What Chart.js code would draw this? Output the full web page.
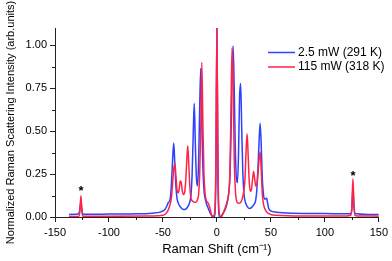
<!DOCTYPE html>
<html>
<head>
<meta charset="utf-8">
<script src="https://cdn.jsdelivr.net/npm/chart.js@4/dist/chart.umd.min.js"></script>
<style>
    html, body { margin: 0; padding: 0; background: #fff; }
    #chart { display: block; }
</style>
</head>
<body>
<canvas id="chart" width="392" height="261"></canvas>
<script>
// 2.5 mW (291 K)
const blueShift = [-137, -130, -128, -127, -126, -125, -124, -120, -100, -80, -60, -52, -48, -46, -45, -44, -43, -42, -41, -40, -39, -38, -37, -35, -33, -31, -29, -27, -25, -24, -23, -22, -21, -20, -19, -18, -17, -16, -15, -14, -13, -12, -10, -8, -6, -4, -2.5, -1, 0, 1, 2.5, 4, 6, 8, 10, 12, 13, 14, 15, 16, 17, 18, 19, 20, 21, 22, 23, 24, 25, 26, 28, 30, 32, 34, 36, 37, 38, 39, 40, 41, 42, 43, 44, 45, 46, 47, 48, 50, 55, 70, 100, 124, 125, 126, 127, 128, 140, 150];
const blueIntensity = [0.015, 0.016, 0.02, 0.045, 0.09, 0.035, 0.018, 0.016, 0.017, 0.018, 0.022, 0.03, 0.045, 0.07, 0.085, 0.09, 0.12, 0.21, 0.34, 0.43, 0.31, 0.18, 0.11, 0.07, 0.052, 0.043, 0.045, 0.06, 0.09, 0.13, 0.24, 0.47, 0.66, 0.43, 0.23, 0.18, 0.31, 0.62, 0.865, 0.56, 0.29, 0.16, 0.085, 0.05, 0.02, 0.005, 0, 0.2, 1.1, 0.2, 0, 0.005, 0.025, 0.05, 0.1, 0.23, 0.46, 0.8, 0.995, 0.76, 0.41, 0.23, 0.2, 0.36, 0.7, 0.777, 0.51, 0.26, 0.14, 0.095, 0.062, 0.05, 0.055, 0.07, 0.1, 0.16, 0.28, 0.43, 0.545, 0.43, 0.23, 0.14, 0.105, 0.105, 0.11, 0.08, 0.05, 0.035, 0.028, 0.022, 0.02, 0.019, 0.05, 0.17, 0.06, 0.02, 0.015, 0.014];

// 115 mW (318 K)
const redShift = [-137, -128, -127, -126, -125, -124, -100, -60, -50, -46, -44, -42, -41, -40, -39, -38, -37, -36, -35, -34, -33, -32, -31, -30, -29, -28, -27, -26, -25, -24, -22, -20, -18, -17, -16, -15, -14, -13, -12, -11, -10, -8, -6, -5, -4, -2, -1, 0, 1, 2, 4, 5, 7, 9, 11, 12, 13, 14, 15, 16, 17, 18, 20, 22, 24, 26, 27, 28, 29, 30, 31, 32, 33, 34, 35, 36, 37, 38, 39, 40, 41, 42, 43, 45, 48, 55, 80, 120, 124, 125, 126, 127, 128, 130, 150];
const redIntensity = [0.003, 0.004, 0.03, 0.124, 0.03, 0.005, 0.004, 0.006, 0.01, 0.03, 0.06, 0.12, 0.2, 0.28, 0.315, 0.24, 0.16, 0.14, 0.16, 0.21, 0.2, 0.15, 0.13, 0.14, 0.2, 0.32, 0.415, 0.3, 0.17, 0.11, 0.09, 0.085, 0.1, 0.13, 0.24, 0.5, 0.9, 0.55, 0.25, 0.14, 0.1, 0.08, 0.04, 0.01, 0, 0.03, 0.3, 1.1, 0.3, 0.03, 0, 0.01, 0.04, 0.08, 0.14, 0.25, 0.6, 0.985, 0.8, 0.35, 0.17, 0.1, 0.08, 0.085, 0.12, 0.22, 0.38, 0.485, 0.35, 0.2, 0.15, 0.16, 0.22, 0.265, 0.22, 0.18, 0.19, 0.25, 0.33, 0.38, 0.28, 0.14, 0.08, 0.04, 0.02, 0.01, 0.006, 0.006, 0.01, 0.05, 0.223, 0.06, 0.01, 0.006, 0.005];

const seriesLabels = ["2.5 mW (291 K)", "115 mW (318 K)"];
const xTicks = [-150, -100, -50, 0, 50, 100, 150];
const yTicks = [0, 0.25, 0.5, 0.75, 1.0];
const xMinorTicks = [-125, -75, -25, 25, 75, 125];
const yMinorTicks = [0.125, 0.375, 0.625, 0.875];

// asterisks marking the sharp lines at +/-126
const starShift = [-126, 126];
const starLevel = [0.165, 0.255];

const BLUE = "rgb(45, 65, 255)";
const RED = "rgb(255, 35, 70)";
const FONT = "'Liberation Sans', Arial, sans-serif";

function toPoints(xs, ys) {
    return xs.map((x, i) => ({ x: x, y: ys[i] }));
}

const minorTicksPlugin = {
    id: "minorTicks",
    afterDraw(chart) {
        const ctx = chart.ctx;
        const xs = chart.scales.x;
        const ys = chart.scales.y;
        ctx.save();
        ctx.strokeStyle = "#222";
        ctx.lineWidth = 1;
        ctx.beginPath();
        xMinorTicks.forEach(v => {
            const px = Math.round(xs.getPixelForValue(v)) + 0.5;
            ctx.moveTo(px, ys.bottom);
            ctx.lineTo(px, ys.bottom + 3);
        });
        yMinorTicks.forEach(v => {
            const py = Math.round(ys.getPixelForValue(v)) + 0.5;
            ctx.moveTo(xs.left, py);
            ctx.lineTo(xs.left - 3, py);
        });
        ctx.stroke();

        // asterisks
        ctx.fillStyle = "#000";
        ctx.font = "bold 13px " + FONT;
        ctx.textAlign = "center";
        ctx.textBaseline = "middle";
        starShift.forEach((s, i) => {
            ctx.fillText("*", xs.getPixelForValue(s), ys.getPixelForValue(starLevel[i]) + 3);
        });

        // legend
        ctx.font = "12px " + FONT;
        ctx.textAlign = "left";
        const colors = [BLUE, RED];
        seriesLabels.forEach((label, i) => {
            const y = 52.5 + i * 14.5;
            ctx.strokeStyle = colors[i];
            ctx.lineWidth = 1.5;
            ctx.beginPath();
            ctx.moveTo(268, y);
            ctx.lineTo(295, y);
            ctx.stroke();
            ctx.fillStyle = "#000";
            ctx.fillText(label, 298, y);
        });
        ctx.restore();
    }
};

const ctx = document.getElementById("chart").getContext("2d");

new Chart(ctx, {
    type: "line",
    data: {
        datasets: [
            {
                label: seriesLabels[0],
                data: toPoints(blueShift, blueIntensity),
                borderColor: BLUE,
                borderWidth: 1.5,
                pointRadius: 0,
                cubicInterpolationMode: "monotone",
                order: 2
            },
            {
                label: seriesLabels[1],
                data: toPoints(redShift, redIntensity),
                borderColor: RED,
                borderWidth: 1.5,
                pointRadius: 0,
                cubicInterpolationMode: "monotone",
                order: 1
            }
        ]
    },
    options: {
        responsive: false,
        animation: false,
        layout: { padding: { top: 28, right: 7, left: 0, bottom: 0 } },
        plugins: {
            legend: { display: false },
            tooltip: { enabled: false }
        },
        scales: {
            x: {
                type: "linear",
                min: -150,
                max: 150,
                afterBuildTicks: scale => { scale.ticks = xTicks.map(v => ({ value: v })); },
                afterFit: scale => { scale.height = 44; },
                border: { display: true, color: "#222", width: 1 },
                grid: { display: true, drawOnChartArea: false, tickLength: 5, color: "#222" },
                ticks: {
                    color: "#000",
                    padding: 4,
                    maxRotation: 0,
                    font: { family: FONT, size: 11 }
                },
                title: {
                    display: true,
                    text: "Raman Shift (cm⁻¹)",
                    color: "#000",
                    padding: { top: 1 },
                    font: { family: FONT, size: 13 }
                }
            },
            y: {
                min: 0,
                max: 1.1,
                afterBuildTicks: scale => { scale.ticks = yTicks.map(v => ({ value: v })); },
                afterFit: scale => { scale.width = 55; },
                border: { display: true, color: "#222", width: 1 },
                grid: { display: true, drawOnChartArea: false, tickLength: 5, color: "#222" },
                ticks: {
                    color: "#000",
                    padding: 3,
                    font: { family: FONT, size: 11 },
                    callback: v => v.toFixed(2)
                },
                title: {
                    display: true,
                    text: "Normalized Raman Scattering Intensity (arb.units)",
                    color: "#000",
                    padding: { bottom: 0 },
                    font: { family: FONT, size: 11 }
                }
            }
        }
    },
    plugins: [minorTicksPlugin]
});
</script>
</body>
</html>
